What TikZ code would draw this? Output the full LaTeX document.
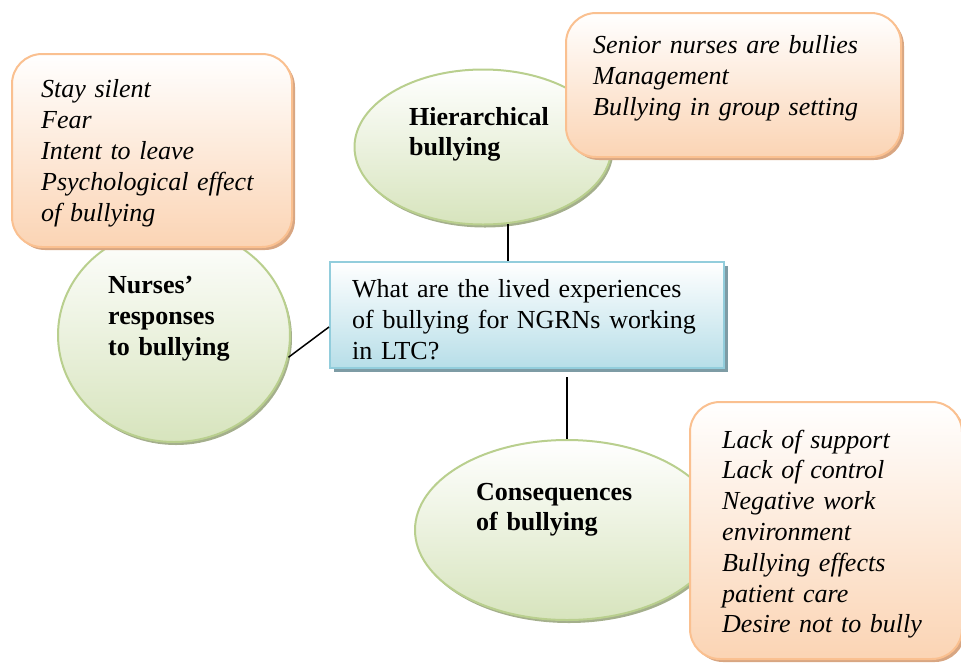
\documentclass[tikz,border=0pt]{standalone}
\usepackage{fontspec}
\setmainfont{Liberation Serif}
\usetikzlibrary{shapes.geometric,shadows,shadings}

\definecolor{peachline}{HTML}{FAC090}
\definecolor{peachfill}{HTML}{FBD4B4}
\definecolor{peachshadow}{HTML}{D8A682}
\definecolor{greenline}{HTML}{B9CF8E}
\definecolor{greenfill}{HTML}{D7E4BD}
\definecolor{greenshadow}{HTML}{A4AF8C}
\definecolor{blueline}{HTML}{92CDDC}
\definecolor{bluefill}{HTML}{B7DEE8}
\definecolor{blueshadow}{HTML}{7E9CA5}

\tikzset{
  theme/.style={ellipse, draw=greenline, line width=2pt, top color=white, bottom color=greenfill,
    inner sep=0pt, drop shadow={shadow xshift=2pt, shadow yshift=-3pt, fill=greenshadow, opacity=1}},
  notebox/.style={rectangle, rounded corners=30pt, draw=peachline, line width=2pt, top color=white,
    bottom color=peachfill, inner sep=0pt,
    drop shadow={shadow xshift=3pt, shadow yshift=-3pt, fill=peachshadow, opacity=1}},
  question/.style={rectangle, draw=blueline, line width=2pt, top color=white, bottom color=bluefill,
    inner sep=0pt, drop shadow={shadow xshift=4pt, shadow yshift=-4pt, fill=blueshadow, opacity=1}},
  label/.style={anchor=base west, inner sep=0pt, align=left, text width=#1,
    font=\fontsize{26}{31}\selectfont},
  link/.style={line width=1.5pt}
}

\begin{document}
\begin{tikzpicture}[x=1pt, y=-1pt]
  \useasboundingbox (0,0) rectangle (961,662);

  % the three themes
  \node[theme, minimum width=232pt, minimum height=214pt] (nurse) at (174,335) {};
  \node[theme, minimum width=257pt, minimum height=155pt] (hier) at (483,147) {};
  \node[theme, minimum width=304pt, minimum height=180pt] (cons) at (567,530) {};

  % question in the middle
  \node[question, minimum width=394pt, minimum height=106pt] (q) at (527,315) {};

  \draw[link] (hier.-72) -- (hier.-72 |- q.north);
  \draw[link] ([yshift=-12pt]q.west) -- (nurse.-11);
  \draw[link] ([yshift=-8pt]q.south -| cons.north) -- (cons.north);

  % sub-themes
  \node[notebox, minimum width=280pt, minimum height=193pt] (silentbox) at (152,150.5) {};
  \node[notebox, minimum width=335pt, minimum height=144pt] (seniorbox) at (733.5,85) {};
  \node[notebox, minimum width=272pt, minimum height=257pt] (supportbox) at (826,530.5) {};

  % texts
  \node[label=360pt] (qtext) at (352,297)
    {What are the lived experiences\\of bullying for NGRNs working\\in LTC?};
  \node[label=200pt, font=\fontsize{26}{31}\selectfont\bfseries] (nursetext) at (108,293)
    {Nurses’\\responses\\to bullying};
  \node[label=200pt, font=\fontsize{26}{30}\selectfont\bfseries] (hiertext) at (409,125)
    {Hierarchical\\bullying};
  \node[label=200pt, font=\fontsize{26}{30}\selectfont\bfseries] (constext) at (476,500)
    {Consequences\\of bullying};
  \node[label=260pt, font=\fontsize{26}{31}\selectfont\itshape] (silenttext) at (41,97)
    {Stay silent\\Fear\\Intent to leave\\Psychological effect\\of bullying};
  \node[label=300pt, font=\fontsize{26}{31}\selectfont\itshape] (seniortext) at (593,53)
    {Senior nurses are bullies\\Management\\Bullying in group setting};
  \node[label=230pt, font=\fontsize{26}{30.8}\selectfont\itshape] (supporttext) at (722,448)
    {Lack of support\\Lack of control\\Negative work\\environment\\Bullying effects\\patient care\\Desire not to bully};
\end{tikzpicture}
\end{document}
